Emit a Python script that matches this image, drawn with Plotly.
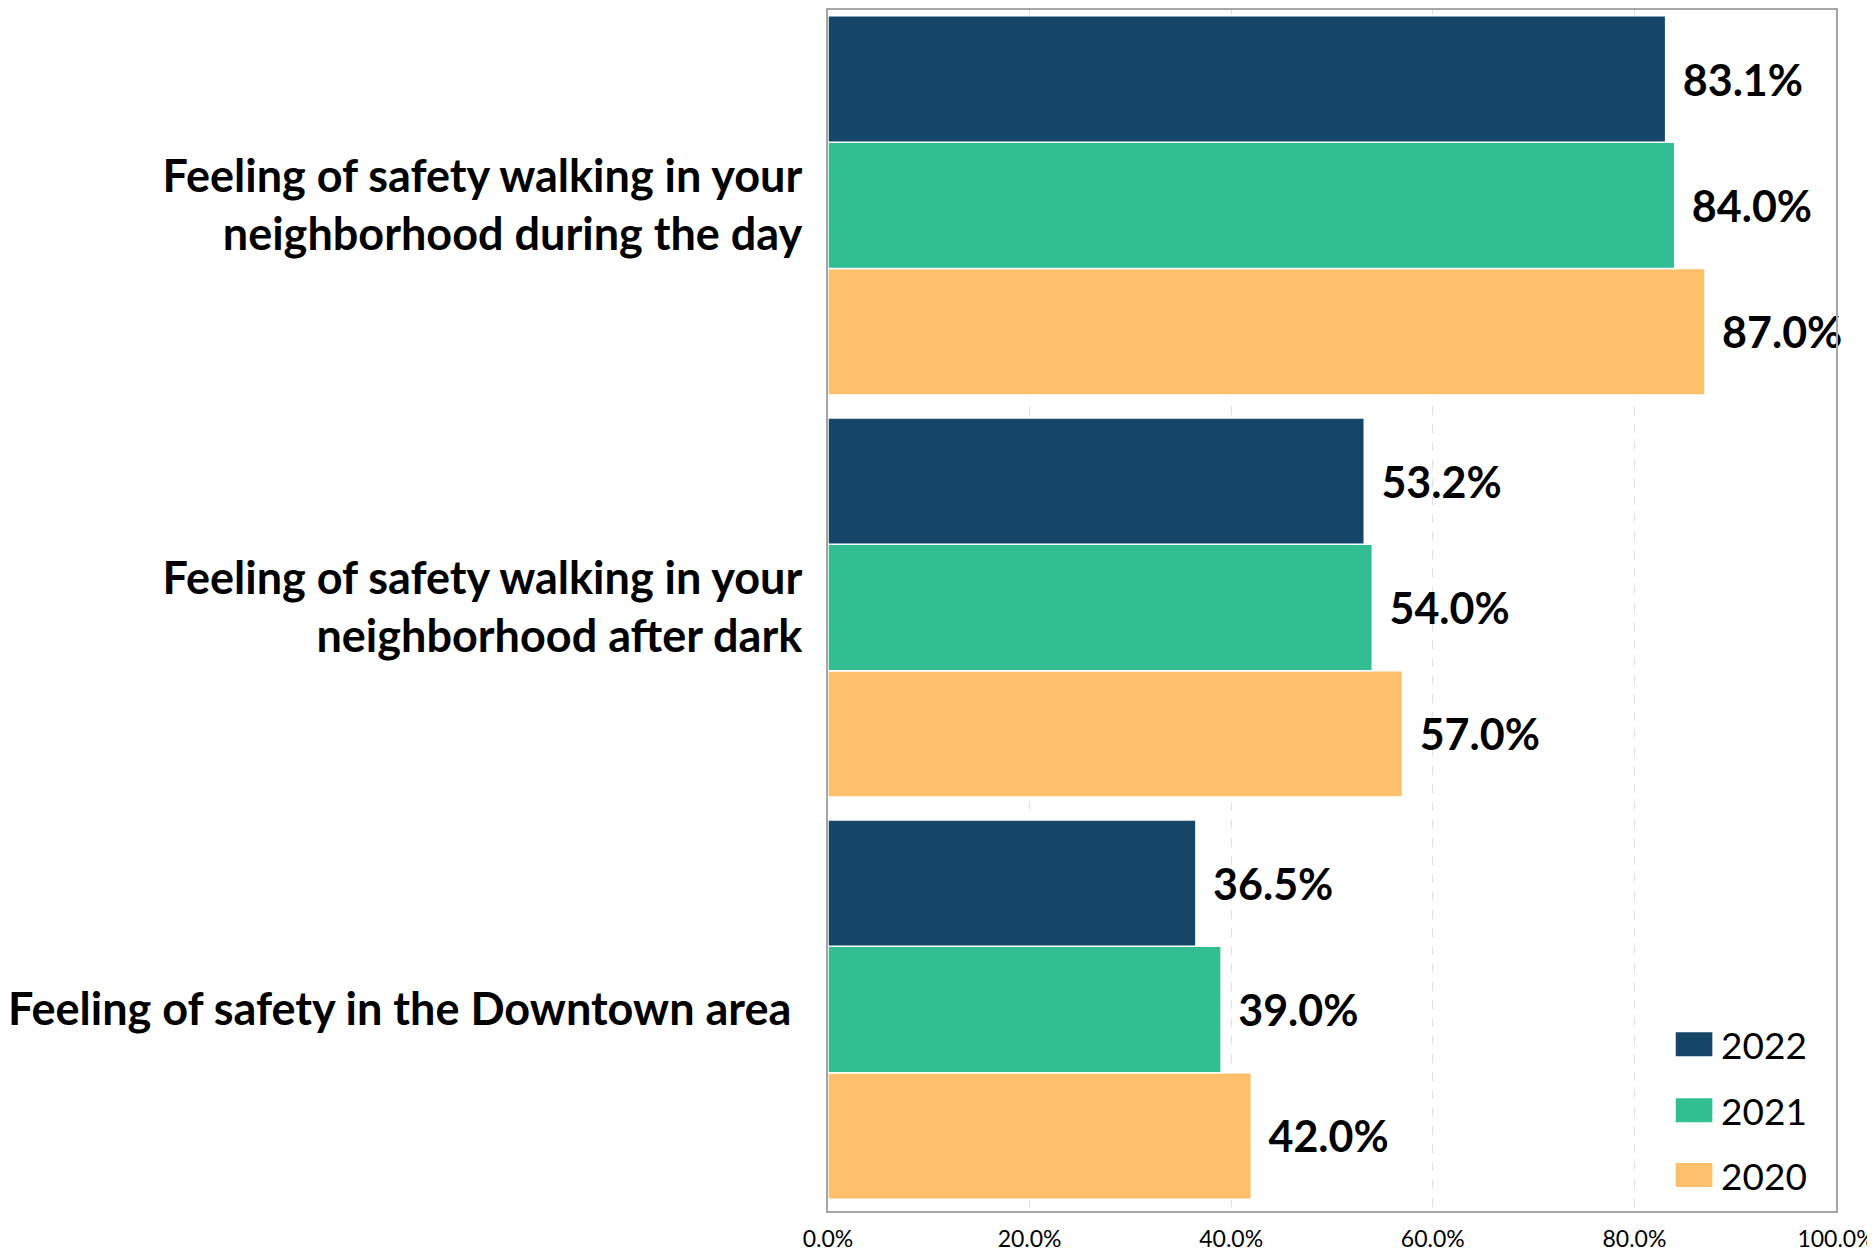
import plotly.graph_objects as go

categories = [
    "Feeling of safety walking in your<br>neighborhood during the day",
    "Feeling of safety walking in your<br>neighborhood after dark",
    "Feeling of safety in the Downtown area\u00a0",
]
years = ["2020", "2021", "2022"]
values_2020 = [87.0, 57.0, 42.0]
values_2021 = [84.0, 54.0, 39.0]
values_2022 = [83.1, 53.2, 36.5]
colors = {"2020": "#FEC06A", "2021": "#31BE93", "2022": "#154667"}
x_ticks = [0, 20, 40, 60, 80, 100]

FONT = "Lato"
series = {"2020": values_2020, "2021": values_2021, "2022": values_2022}

W, H = 1867, 1250
L, R, T, B = 811, 37, 0, 47
plot_w = W - L - R
plot_h = H - T - B

PAD = "<span style='font-size:29px'>\u00a0\u00a0</span>"

fig = go.Figure()
for yr in years:
    fig.add_trace(go.Bar(
        name=yr, orientation="h", y=categories, x=series[yr],
        marker=dict(color=colors[yr], line=dict(color="white", width=1.5)),
        text=[PAD + f"{v:.1f}%" for v in series[yr]],
        textposition="outside", constraintext="none", cliponaxis=False,
        textfont=dict(family=FONT, size=43, color="black", weight="bold"),
        showlegend=False,
    ))

# Legend drawn as swatches + text (pixel positions relative to figure)
legend_rows = {"2022": 1036, "2021": 1102, "2020": 1167}  # row center y (fig px)
sw_x0, sw_x1, sw_h = 1668, 1705, 24
txt_x = 1712
for yr in years:
    cy = legend_rows[yr]
    fig.add_shape(type="rect", xref="paper", yref="paper",
                  x0=(sw_x0 - L) / plot_w, x1=(sw_x1 - L) / plot_w,
                  y0=(H - B - (cy + sw_h / 2)) / plot_h, y1=(H - B - (cy - sw_h / 2)) / plot_h,
                  fillcolor=colors[yr], line=dict(width=0))
    fig.add_annotation(xref="paper", yref="paper", x=(txt_x - L) / plot_w,
                       y=(H - B - cy) / plot_h, text=yr, showarrow=False,
                       xanchor="left", yanchor="middle",
                       font=dict(family=FONT, size=37, color="black"))

fig.update_layout(
    width=W, height=H,
    margin=dict(l=L, r=R, t=T, b=B),
    barmode="group", bargap=0.057, bargroupgap=0,
    plot_bgcolor="white", paper_bgcolor="white",
    font=dict(family=FONT, color="black"),
    showlegend=False,
    xaxis=dict(range=[0, 100], tickvals=x_ticks, ticktext=[f"{t:.1f}%" for t in x_ticks],
               showgrid=True, gridcolor="#E0E0E0", griddash="dash", gridwidth=1,
               showline=True, linecolor="#A6A6A6", linewidth=1.5, mirror=True,
               tickfont=dict(family=FONT, size=23), zeroline=False, ticklabelstandoff=7,
               ticklabeloverflow="allow"),
    yaxis=dict(categoryorder="array", categoryarray=categories[::-1],
               range=[-0.501, 2.486],
               showline=True, linecolor="#A6A6A6", linewidth=1.5, mirror=True,
               tickfont=dict(family=FONT, size=45, weight="bold"), ticklabelstandoff=15),
)
fig.write_html("out.html")
